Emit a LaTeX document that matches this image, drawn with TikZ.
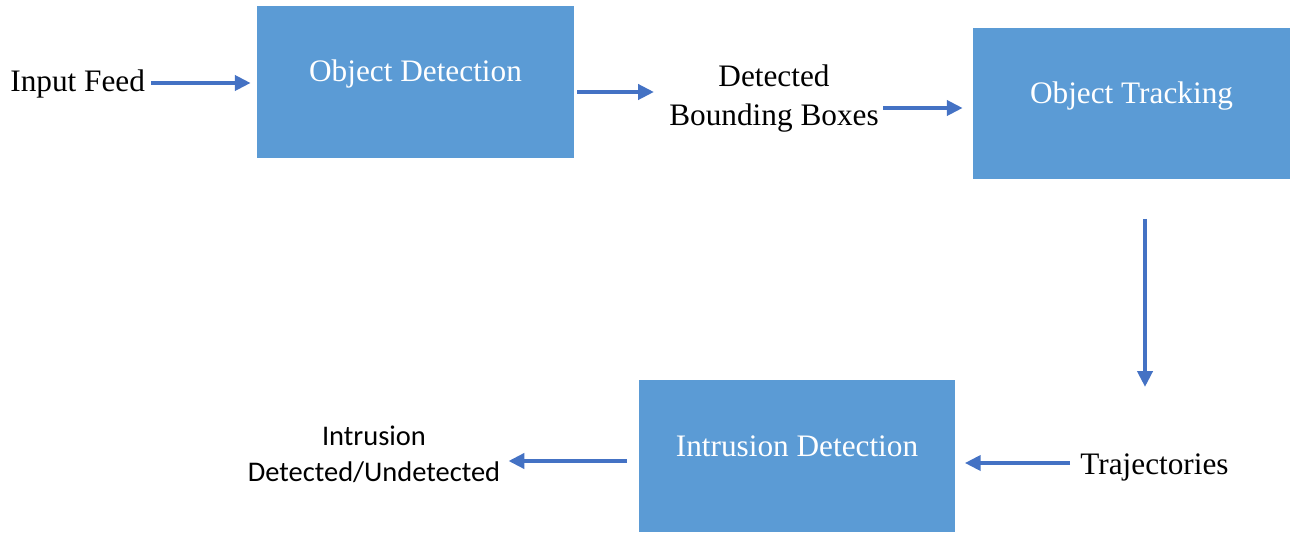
\documentclass[tikz,border=0pt]{standalone}
\usepackage{fontspec}
\setmainfont{Liberation Serif}
\newfontfamily\calibrifont{Carlito}
\usetikzlibrary{arrows.meta,calc}
\definecolor{boxblue}{HTML}{5B9BD5}
\definecolor{arrowblue}{HTML}{4472C4}
\begin{document}
\begin{tikzpicture}[x=0.02cm,y=-0.02cm,
  stage/.style={fill=boxblue, draw=none, minimum width=6.34cm, minimum height=3.04cm, inner sep=0},
  stagetext/.style={text=white, inner sep=0, font=\fontsize{17.8}{22}\selectfont},
  txt/.style={inner sep=0, align=center, font=\fontsize{17.8}{22.7}\selectfont},
  sanstxt/.style={inner sep=0, align=center, font=\calibrifont\fontsize{16.2}{20.4}\selectfont},
  flow/.style={draw=arrowblue, line width=2.2pt, -{Triangle[length=9pt,width=8.5pt]}}]
\useasboundingbox (0,0) rectangle (1293,533);

% processing stages
\node[stage] (od) at (415.5,82) {};
\node[stagetext, anchor=base] (odt) at (od.center) {Object Detection};
\node[stage] (ot) at (1131.5,103.5) {};
\node[stagetext, anchor=base] (ott) at (ot.center) {Object Tracking};
\node[stage] (id) at (797,456) {};
\node[stagetext, anchor=base] (idt) at (id.center) {Intrusion Detection};

% inputs and outputs (base anchor = baseline of the last line)
\node[txt, anchor=base west] (in) at (10,92) {Input Feed};
\node[txt, anchor=base] (dbb) at (774,126) {Detected\\Bounding Boxes};
\node[txt, anchor=base west] (traj) at (1080,474) {Trajectories};
\node[sanstxt, anchor=base] (res) at (374,481) {Intrusion\\Detected/Undetected};

% data flow
\coordinate (a1s) at ($(in.east |- 0,83)+(6,0)$);
\draw[flow] (a1s) -- ($(od.west |- a1s)+(-6,0)$);
\coordinate (a2s) at ($(od.east |- 0,92)+(3,0)$);
\draw[flow] (a2s) -- ($(dbb.west |- a2s)+(-15,0)$);
\coordinate (a3s) at ($(dbb.east |- 0,108)+(4,0)$);
\draw[flow] (a3s) -- ($(ot.west |- a3s)+(-10,0)$);
\coordinate (a4s) at ($(ot.south -| 1145,0)+(0,39)$);
\draw[flow] (a4s) -- ($(traj.north -| a4s)+(0,-66)$);
\coordinate (a5s) at ($(traj.west |- 0,463)+(-10,0)$);
\draw[flow] (a5s) -- ($(id.east |- a5s)+(9,0)$);
\coordinate (a6s) at ($(id.west |- 0,461)+(-11,0)$);
\draw[flow] (a6s) -- ($(res.east |- a6s)+(8,0)$);
\end{tikzpicture}
\end{document}
